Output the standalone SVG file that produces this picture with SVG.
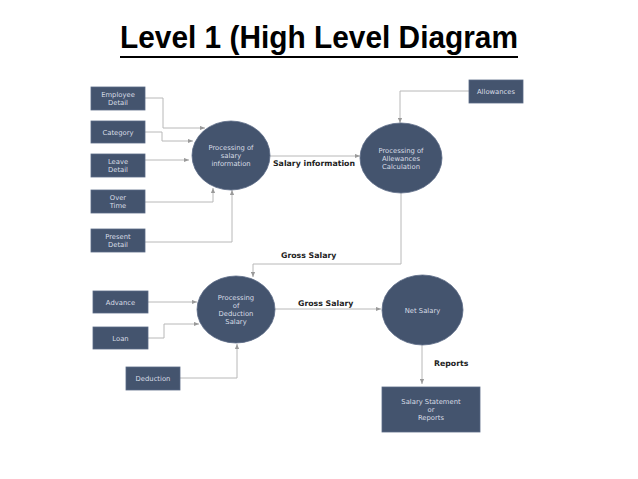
<svg xmlns="http://www.w3.org/2000/svg" width="638" height="479" viewBox="0 0 638 479">
<defs>
<marker id="ah" viewBox="0 0 6 6" refX="6" refY="3" markerWidth="5" markerHeight="5" orient="auto" markerUnits="userSpaceOnUse">
<path d="M0,0.5 L6,3 L0,5.5 Z" fill="#9a9a9a"/>
</marker>
<style>
.n{fill:#44546e;stroke:#5a6a85;stroke-width:0.8}
.t{font-family:"DejaVu Sans",Verdana,sans-serif;font-size:6.8px;fill:#d8dde6;text-anchor:middle}
.c{fill:none;stroke:#b8b8b8;stroke-width:1;marker-end:url(#ah)}
.l{font-family:"DejaVu Sans",Verdana,sans-serif;font-size:7.8px;font-weight:bold;fill:#222}
</style>
</defs>
<rect width="638" height="479" fill="#ffffff"/>
<text x="120" y="48" font-family="Liberation Sans,Arial,sans-serif" font-size="32" font-weight="bold" fill="#000" textLength="398" lengthAdjust="spacingAndGlyphs">Level 1 (High Level Diagram</text>
<line x1="120" y1="57" x2="518" y2="57" stroke="#000" stroke-width="2.2"/>

<g id="connectors">
<polyline class="c" points="145,98 163,98 163,128 205,128"/>
<polyline class="c" points="145,132 162,132 162,141 193,141"/>
<polyline class="c" points="145,160 189,160"/>
<polyline class="c" points="145,202 213,202 213,188"/>
<polyline class="c" points="145,242 232,242 232,190"/>
<polyline class="c" points="469,91 400,91 400,123"/>
<polyline class="c" points="270,156 360,156"/>
<polyline class="c" points="401,193 401,264 253,264 253,277"/>
<polyline class="c" points="148,302 197,302"/>
<polyline class="c" points="148,338 164,338 164,324 199,324"/>
<polyline class="c" points="180,378 237,378 237,344"/>
<polyline class="c" points="275,309 381,309"/>
<polyline class="c" points="422,345 422,384"/>
<text class="l" x="273" y="166">Salary information</text>
<text class="l" x="281" y="258">Gross Salary</text>
<text class="l" x="298" y="306">Gross Salary</text>
<text class="l" x="434" y="366">Reports</text>
</g>

<g id="employee-detail"><rect class="n" x="91" y="87" width="54" height="23"/><text class="t" x="118" y="97">Employee</text><text class="t" x="118" y="105">Detail</text></g>
<g id="category"><rect class="n" x="91" y="121" width="54" height="22"/><text class="t" x="118" y="134.5">Category</text></g>
<g id="leave-detail"><rect class="n" x="91" y="154" width="54" height="23"/><text class="t" x="118" y="164">Leave</text><text class="t" x="118" y="172">Detail</text></g>
<g id="over-time"><rect class="n" x="91" y="190" width="54" height="23"/><text class="t" x="118" y="200">Over</text><text class="t" x="118" y="208">Time</text></g>
<g id="present-detail"><rect class="n" x="91" y="229" width="54" height="23"/><text class="t" x="118" y="239">Present</text><text class="t" x="118" y="247">Detail</text></g>
<g id="proc-salary"><ellipse class="n" cx="231" cy="155.5" rx="39" ry="34.5"/><text class="t" x="231" y="150">Processing of</text><text class="t" x="231" y="158">salary</text><text class="t" x="231" y="166">information</text></g>
<g id="allowances"><rect class="n" x="469" y="80" width="54" height="23"/><text class="t" x="496" y="94">Allowances</text></g>
<g id="proc-allowances"><ellipse class="n" cx="401" cy="158" rx="41" ry="35"/><text class="t" x="401" y="153">Processing of</text><text class="t" x="401" y="161">Allewances</text><text class="t" x="401" y="169">Calculation</text></g>
<g id="advance"><rect class="n" x="93" y="291" width="55" height="22"/><text class="t" x="120.5" y="304.5">Advance</text></g>
<g id="loan"><rect class="n" x="93" y="327" width="55" height="22"/><text class="t" x="120.5" y="340.5">Loan</text></g>
<g id="deduction"><rect class="n" x="126" y="367" width="54" height="23"/><text class="t" x="153" y="381">Deduction</text></g>
<g id="proc-deduction"><ellipse class="n" cx="236" cy="309.5" rx="39" ry="33.5"/><text class="t" x="236" y="300">Processing</text><text class="t" x="236" y="308">of</text><text class="t" x="236" y="316">Deduction</text><text class="t" x="236" y="324">Salary</text></g>
<g id="net-salary"><ellipse class="n" cx="422.5" cy="310" rx="40.5" ry="35"/><text class="t" x="422.5" y="312.5">Net Salary</text></g>
<g id="salary-statement"><rect class="n" x="382" y="387" width="98" height="45"/><text class="t" x="431" y="404">Salary Statement</text><text class="t" x="431" y="412">or</text><text class="t" x="431" y="420">Reports</text></g>
</svg>
